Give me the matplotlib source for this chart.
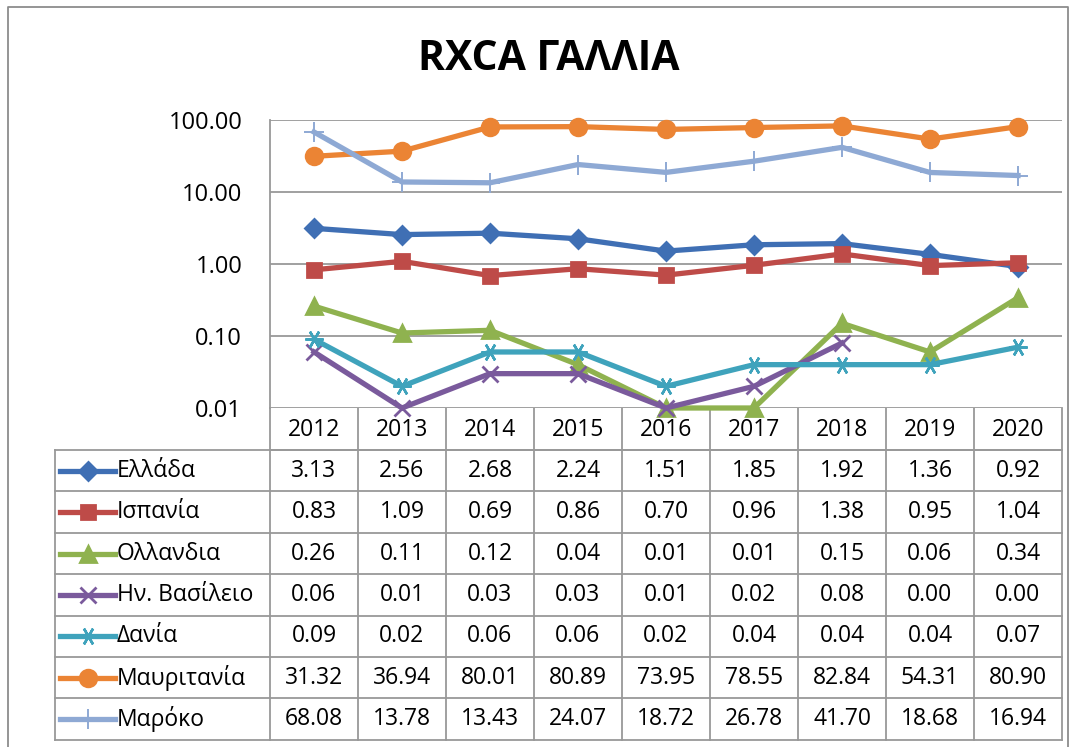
import numpy as np
import matplotlib
matplotlib.use("Agg")
import matplotlib.pyplot as plt
from matplotlib.lines import Line2D

plt.rcParams['font.family'] = ['Open Sans', 'DejaVu Sans']

years = ['2012', '2013', '2014', '2015', '2016', '2017', '2018', '2019', '2020']
countries = ['Ελλάδα', 'Ισπανία', 'Ολλανδια', 'Ην. Βασίλειο', 'Δανία', 'Μαυριτανία', 'Μαρόκο']

greece = [3.13, 2.56, 2.68, 2.24, 1.51, 1.85, 1.92, 1.36, 0.92]
spain = [0.83, 1.09, 0.69, 0.86, 0.70, 0.96, 1.38, 0.95, 1.04]
netherlands = [0.26, 0.11, 0.12, 0.04, 0.01, 0.01, 0.15, 0.06, 0.34]
uk = [0.06, 0.01, 0.03, 0.03, 0.01, 0.02, 0.08, 0.00, 0.00]
denmark = [0.09, 0.02, 0.06, 0.06, 0.02, 0.04, 0.04, 0.04, 0.07]
mauritania = [31.32, 36.94, 80.01, 80.89, 73.95, 78.55, 82.84, 54.31, 80.90]
morocco = [68.08, 13.78, 13.43, 24.07, 18.72, 26.78, 41.70, 18.68, 16.94]

series = [greece, spain, netherlands, uk, denmark, mauritania, morocco]
colors = ['#3F6FB4', '#BE4B48', '#8FB24F', '#7A5A9C', '#3FA3BC', '#EB8434', '#8EA9D4']
markers = ['D', 's', '^', 'x', (6, 2, 90), 'o', '+']
msizes = [9, 10, 11, 11, 13, 12, 14]
medges = [2, 2, 2, 2, 1.8, 2, 1.4]

W, H = 1076, 747
fig = plt.figure(figsize=(W / 100, H / 100), dpi=100)

# geometry in pixels
px_left, px_right = 270, 1062
px_top, px_bot = 120, 408
row_h = 41.4
hdr_bot = 450
leg_left = 55
ncol = len(years)
col_w = (px_right - px_left) / ncol
fs = 16.5

ax = fig.add_axes([px_left / W, 1 - px_bot / H, (px_right - px_left) / W, (px_bot - px_top) / H])
x = np.arange(ncol)
for vals, c, m, ms, me in zip(series, colors, markers, msizes, medges):
    v = np.array(vals, dtype=float)
    v = np.where(v > 0, v, np.nan)
    ax.plot(x, v, color=c, lw=3.8, marker=m, markersize=ms, markeredgewidth=me,
            markeredgecolor=c, markerfacecolor=c, clip_on=False, zorder=3)

ax.set_yscale('log')
ax.set_ylim(0.01, 100)
ax.set_xlim(-0.5, ncol - 0.5)
ax.set_yticks([0.01, 0.1, 1, 10, 100])
ax.set_yticklabels(['0.01', '0.10', '1.00', '10.00', '100.00'], fontsize=17)
ax.yaxis.set_minor_locator(matplotlib.ticker.NullLocator())
ax.tick_params(axis='y', length=0, pad=20)
ax.set_xticks([])
ax.grid(axis='y', color='#999999', lw=1.3)
for s in ['top', 'right', 'bottom']:
    ax.spines[s].set_visible(False)
ax.spines['left'].set_color('#999999')
ax.spines['left'].set_linewidth(1.3)

# table overlay in pixel coords
tb = fig.add_axes([0, 0, 1, 1], zorder=-1)
tb.set_xlim(0, W)
tb.set_ylim(H, 0)
tb.axis('off')
gc = '#999999'

# outer frame
tb.plot([8, 8, 1068, 1068], [760, 7, 7, 760], color='#8c8c8c', lw=1.3)

# header row
tb.plot([px_left, px_right], [hdr_bot, hdr_bot], color=gc, lw=1.3)
for i in range(ncol + 1):
    xx = px_left + i * col_w
    tb.plot([xx, xx], [px_bot, hdr_bot], color=gc, lw=1.3)
for i, yr in enumerate(years):
    tb.text(px_left + (i + 0.5) * col_w, (px_bot + hdr_bot) / 2 + 1, yr,
            ha='center', va='center', fontsize=fs)

nrow = len(countries)
tab_bot = hdr_bot + nrow * row_h
for r in range(nrow + 1):
    yy = hdr_bot + r * row_h
    tb.plot([leg_left, px_right], [yy, yy], color=gc, lw=1.3)
for xx in [leg_left] + [px_left + i * col_w for i in range(ncol + 1)]:
    tb.plot([xx, xx], [hdr_bot, tab_bot], color=gc, lw=1.3)

for r, (name, vals, c, m, ms, me) in enumerate(zip(countries, series, colors, markers, msizes, medges)):
    yc = hdr_bot + (r + 0.5) * row_h
    tb.add_line(Line2D([60, 115], [yc, yc], color=c, lw=3.8))
    tb.add_line(Line2D([87.5], [yc], color=c, marker=m, markersize=ms, markeredgewidth=me,
                       markeredgecolor=c, markerfacecolor=c))
    tb.text(117, yc, name, ha='left', va='center', fontsize=fs)
    for i, v in enumerate(vals):
        tb.text(px_left + (i + 0.5) * col_w, yc, f'{v:.2f}', ha='center', va='center', fontsize=fs)

fig.text(549 / W, 1 - 60 / H, 'RXCA ΓΑΛΛΙΑ', ha='center', va='center',
         fontsize=29.5, fontweight='bold')

fig.savefig('out.png', dpi=100)
